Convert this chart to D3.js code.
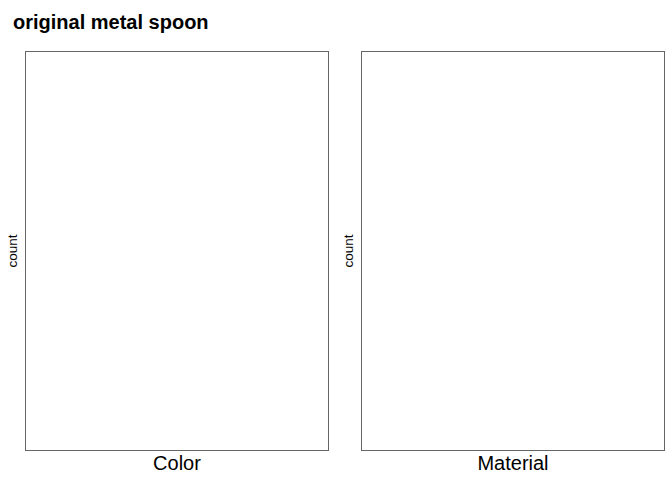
<!DOCTYPE html>
<html><head><meta charset="utf-8">
<script src="https://cdn.jsdelivr.net/npm/d3@7"></script>
<style>body{margin:0;background:#fff}svg{display:block}</style>
</head><body>
<script>
// Data (empty: the reference panels contain no bars)
const titleText = "original metal spoon";
const panelNames = ["Color", "Material"];
const colorCategories = [];
const colorCounts = [];
const materialCategories = [];
const materialCounts = [];

const W = 672, H = 480;
const svg = d3.select("body").append("svg").attr("width", W).attr("height", H);
const font = "Liberation Sans, Arial, Helvetica, sans-serif";

svg.append("text").attr("x", 13).attr("y", 29)
  .attr("font-family", font).attr("font-size", 20).attr("font-weight", "bold")
  .attr("fill", "#000").text(titleText);

const panels = [
  {name: panelNames[0], cats: colorCategories, vals: colorCounts, x0: 25.5, x1: 328.5},
  {name: panelNames[1], cats: materialCategories, vals: materialCounts, x0: 361.5, x1: 664.5}
];
const y0 = 51.5, y1 = 450.5;

panels.forEach(p => {
  const g = svg.append("g");
  const x = d3.scaleBand().domain(p.cats).range([p.x0, p.x1]).padding(0.1);
  const y = d3.scaleLinear().domain([0, d3.max(p.vals) || 1]).range([y1, y0]);
  g.selectAll("rect.bar").data(p.cats).join("rect").attr("class", "bar")
    .attr("x", d => x(d)).attr("width", x.bandwidth())
    .attr("y", (d, i) => y(p.vals[i])).attr("height", (d, i) => y1 - y(p.vals[i]))
    .attr("fill", "#595959");
  g.append("rect").attr("x", p.x0).attr("y", y0)
    .attr("width", p.x1 - p.x0).attr("height", y1 - y0)
    .attr("fill", "none").attr("stroke", "#666").attr("stroke-width", 1);
  g.append("text").attr("x", (p.x0 + p.x1) / 2).attr("y", 470)
    .attr("text-anchor", "middle").attr("font-family", font).attr("font-size", 20)
    .attr("fill", "#000").text(p.name);
  g.append("text").attr("transform", `translate(${p.x0 - 9},${(y0 + y1) / 2}) rotate(-90)`)
    .attr("text-anchor", "middle").attr("font-family", font).attr("font-size", 13.5)
    .attr("fill", "#000").text("count");
});
</script>
</body></html>
